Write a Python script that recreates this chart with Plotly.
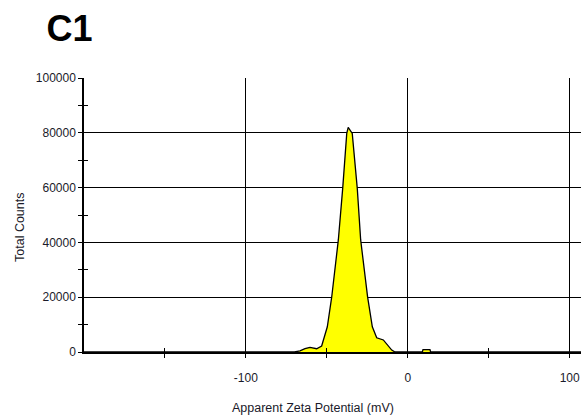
import plotly.graph_objects as go

zeta_mv = [-200, -70, -66.6, -63.5, -60.4, -56.3, -53.2, -51.6, -49.7, -47.0, -42.9, -40.2,
           -37.7, -36.8, -34.3, -31.2, -29.1, -24.8, -21.9, -19.2, -15.1, -9.9, -7.9,
           9, 9.4, 13.7, 14.1, 107]
counts = [0, 0, 400, 1200, 1700, 1200, 2200, 5600, 9200, 20000, 40900, 59700,
          79800, 82000, 79800, 59700, 40900, 20000, 9200, 5200, 4400, 700, 0,
          0, 900, 900, 0, 0]

x_major = [-100, 0, 100]
x_labels = ["-100", "0", "100"]
x_minor = [-150, -50, 50]
y_major = [0, 20000, 40000, 60000, 80000, 100000]
y_labels = ["0", "20000", "40000", "60000", "80000", "100000"]
y_minor = [10000, 30000, 50000, 70000, 90000]

fig = go.Figure()
fig.add_trace(go.Scatter(
    x=zeta_mv, y=counts, mode="lines", fill="tozeroy",
    fillcolor="#FFFF00", line=dict(color="black", width=1.3),
    xaxis="x", yaxis="y", showlegend=False, hoverinfo="skip"))
fig.add_trace(go.Scatter(x=[None], y=[None], xaxis="x2", yaxis="y2", showlegend=False))

axis_font = dict(family="Liberation Sans, Arial, sans-serif", size=12.5, color="#1a1a2a")
tick_font = dict(family="Liberation Sans, Arial, sans-serif", size=12, color="#1a1a2a")

fig.update_layout(
    width=581, height=420,
    margin=dict(l=84, r=0, t=78, b=68),
    paper_bgcolor="white", plot_bgcolor="white",
    title=dict(text="<b>C1</b>", x=0.08, xanchor="left", y=0.962, yanchor="top",
               font=dict(family="Liberation Sans, Arial, sans-serif", size=36, color="black")),
    xaxis=dict(range=[-200, 107], tickmode="array", tickvals=x_major, ticktext=x_labels,
               showgrid=True, gridcolor="black", gridwidth=1.2, zeroline=False,
               showline=True, linecolor="black", linewidth=2,
               ticks="outside", ticklen=4, tickcolor="black", tickwidth=1.2,
               tickfont=tick_font, ticklabelstandoff=10,
               minor=dict(tickvals=x_minor, ticks="outside", ticklen=4,
                          tickcolor="black", tickwidth=1.2, showgrid=False),
               fixedrange=True),
    yaxis=dict(range=[0, 100000], tickmode="array", tickvals=y_major, ticktext=y_labels,
               showgrid=True, gridcolor="black", gridwidth=1.2, zeroline=False,
               showline=True, linecolor="black", linewidth=1.5,
               ticks="outside", ticklen=4, tickcolor="black", tickwidth=1.2,
               tickfont=tick_font,
               minor=dict(tickvals=y_minor, ticks="outside",
                          ticklen=4, tickcolor="black", tickwidth=1.2, showgrid=False),
               fixedrange=True),
    xaxis2=dict(overlaying="x", matches="x", range=[-200, 107], tickmode="array",
                tickvals=x_major + x_minor, showticklabels=False, showgrid=False,
                zeroline=False, ticks="inside", ticklen=4, tickcolor="black", tickwidth=1.2,
                anchor="y", side="bottom", fixedrange=True),
    yaxis2=dict(overlaying="y", matches="y", range=[0, 100000], tickmode="array",
                tickvals=y_major + y_minor, showticklabels=False,
                showgrid=False, zeroline=False, ticks="inside", ticklen=4, tickcolor="black",
                tickwidth=1.2, anchor="x", side="left", fixedrange=True),
    annotations=[
        dict(text="Apparent Zeta Potential (mV)", xref="paper", yref="paper",
             x=0.461, y=0, yshift=-56, xanchor="center", yanchor="middle",
             showarrow=False, font=axis_font),
        dict(text="Total Counts", xref="paper", yref="paper", textangle=-90,
             x=0, xshift=-64, y=0.4526, xanchor="center", yanchor="middle",
             showarrow=False, font=axis_font),
    ],
)

fig.write_html("out.html")
